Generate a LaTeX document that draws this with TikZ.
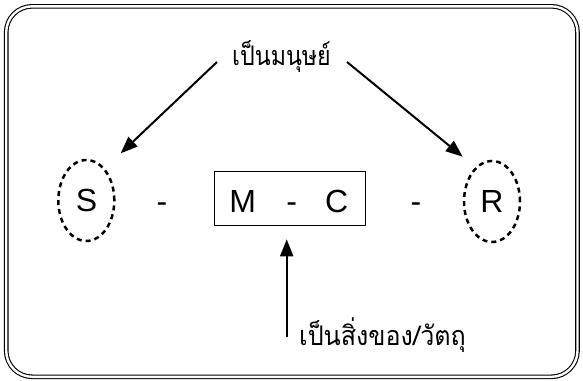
\documentclass[tikz,border=0pt]{standalone}
\usepackage{fontspec}
\setmainfont{Liberation Sans}
\newfontfamily\thaifont[Script=Thai,FakeStretch=0.86]{Loma}
\newfontfamily\thaifontb[Script=Thai,FakeStretch=0.93]{Loma}
\usetikzlibrary{arrows.meta,shapes.geometric}
\begin{document}
\begin{tikzpicture}[x=1pt,y=-1pt,
  frame/.style={draw, double, double distance=2.4pt, line width=1.1pt, rounded corners=26pt},
  dashell/.style={draw, ellipse, dash pattern=on 5pt off 4pt, line width=2.5pt, minimum width=56pt, minimum height=81pt, inner sep=0pt},
  letter/.style={font=\fontsize{32}{32}\selectfont, inner sep=0pt, anchor=base},
  thai/.style={font=\thaifont\fontsize{27}{30}\selectfont, inner sep=0pt},
  thaib/.style={font=\thaifontb\fontsize{27}{30}\selectfont, inner sep=0pt},
  mcbox/.style={draw, line width=1.3pt, minimum width=151pt, minimum height=54pt, inner sep=0pt},
  arr/.style={line width=2pt, -{Triangle[length=17pt,width=13pt]}},
  ]
\useasboundingbox (0,0) rectangle (583,380);
\draw[frame] (6.2,6.3) rectangle (577.5,376.8);
% top label
\node[thai, anchor=base] (human) at (281.5,65) {เป็นมนุษย์};
% S and R
\node[dashell] (S) at (86.3,200.5) {};
\node[dashell] (R) at (492,201.5) {};
\node[letter] (Sl) at (86.5,211.5) {S};
\node[letter] (Rl) at (492,212) {R};
% dashes
\node[letter] (d1) at (162,212) {-};
\node[letter] (d2) at (416,212) {-};
% M - C box
\node[mcbox] (box) at (290,198.5) {};
\node[letter] (M) at (242.7,212.5) {M};
\node[letter] (d3) at (291.7,212.5) {-};
\node[letter] (C) at (336.7,212.5) {C};
% bottom label
\node[thaib, anchor=base west] (thing) at (299,345) {เป็นสิ่งของ/วัตถุ};
% arrow ends
\coordinate (h1) at (217,62);
\coordinate (h2) at (347,62);
\coordinate (s1) at (120.7,153.3);
\coordinate (r1) at (462.7,156.7);
\coordinate (t1) at (286.7,337);
\coordinate (b1) at (286.7,239.3);
\draw[arr] (h1) -- (s1);
\draw[arr] (h2) -- (r1);
\draw[arr] (t1) -- (b1);
\end{tikzpicture}
\end{document}
